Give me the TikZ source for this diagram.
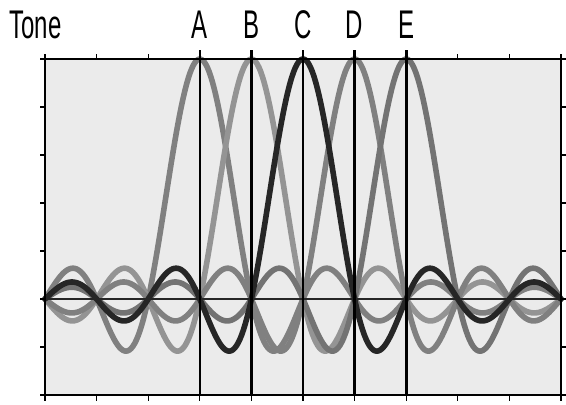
\documentclass[tikz,border=0pt]{standalone}
\usepackage{fontspec}
\setmainfont{Liberation Sans}
\begin{document}
\begin{tikzpicture}[x=0.5pt,y=-0.5pt,
  declare function={sinc(\t)=sin(180*\t)/(pi*\t);},
  lbl/.style={font=\fontsize{20}{20}\selectfont, inner sep=0pt, xscale=0.6},
  frame/.style={draw=black, line width=0.8pt},
  tick/.style={black, line width=0.6pt},
  marker/.style={black, line width=1.3pt},
  base/.style={black!85, line width=0.9pt},
  wave/.style={line width=2.8pt, line cap=round, line join=round},
  curveA/.style={wave, black!50},
  curveB/.style={wave, black!42},
  curveC/.style={wave, black!85},
  curveD/.style={wave, black!50},
  curveE/.style={wave, black!55},
]
\useasboundingbox (0,0) rectangle (566,404);
% plot area
\fill[black!8] (45,59) rectangle (561,395);
% curves
\draw[curveA] plot[domain=45:561, samples=300] (\x, {299 - 240*sinc((\x-199.8)/51.6)});
\draw[curveB] plot[domain=45:561, samples=300] (\x, {299 - 240*sinc((\x-251.4)/51.6)});
\draw[curveD] plot[domain=45:561, samples=300] (\x, {299 - 240*sinc((\x-354.6)/51.6)});
\draw[curveE] plot[domain=45:561, samples=300] (\x, {299 - 240*sinc((\x-406.2)/51.6)});
\draw[curveC] plot[domain=45:561, samples=300] (\x, {299 - 240*sinc((\x-303)/51.6)});
% baseline
\coordinate (b0) at (45,299);
\coordinate (b1) at (561,299);
\draw[base] (b0) -- (b1);
% frame
\draw[frame] (45,59) rectangle (561,395);
% ticks
\foreach \k in {0,...,10} {
  \draw[tick] ({45+51.6*\k},59) -- ++(0,-5);
  \draw[tick] ({45+51.6*\k},395) -- ++(0,6);
}
\foreach \k in {0,...,7} {
  \draw[tick] (45,{59+48*\k}) -- ++(-5,0);
  \draw[tick] (561,{59+48*\k}) -- ++(5,0);
}
% labels and marker lines
\node[lbl] (tone) at (35.5,24.5) {Tone};
\foreach \n/\xx in {A/199.8,B/251.4,C/303,D/354.6,E/406.2} {
  \node[lbl] (\n) at (\xx,24.5) {\n};
  \coordinate (\n top) at (\xx,50);
  \coordinate (\n bot) at (\xx,395);
  \draw[marker] (\n top) -- (\n bot);
}
\end{tikzpicture}
\end{document}
